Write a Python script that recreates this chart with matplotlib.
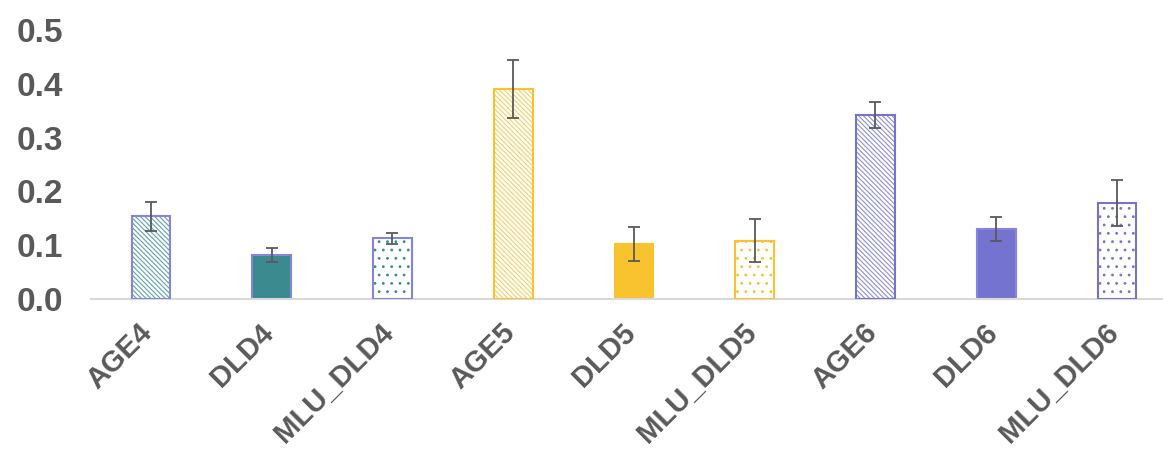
import numpy as np
import matplotlib.pyplot as plt
import matplotlib.transforms as mtransforms

# Values
groups = ['AGE4', 'DLD4', 'MLU_DLD4', 'AGE5', 'DLD5', 'MLU_DLD5', 'AGE6', 'DLD6', 'MLU_DLD6']
means = [0.154, 0.082, 0.113, 0.390, 0.102, 0.108, 0.342, 0.130, 0.178]
errors = [0.027, 0.013, 0.010, 0.054, 0.031, 0.040, 0.024, 0.023, 0.043]
yticks = [0.0, 0.1, 0.2, 0.3, 0.4, 0.5]

teal = '#3A8A8F'
yellow = '#F8C32F'
purple = '#7474D0'
edge_purple = '#8585DD'

# per-bar styling: (fill, hatch colour, hatch, outline)
diag = '\\' * 7
dots = '..'
styles = [
    ('none', '#5FA3A7', diag, edge_purple),
    (teal, None, None, edge_purple),
    ('none', teal, dots, edge_purple),
    ('none', '#F9D064', diag, yellow),
    (yellow, None, None, yellow),
    ('none', yellow, dots, yellow),
    ('none', '#8F8FDA', diag, purple),
    (purple, None, None, edge_purple),
    ('none', purple, dots, purple),
]

plt.rcParams['font.family'] = ['Liberation Sans', 'DejaVu Sans']
plt.rcParams['hatch.linewidth'] = 0.8

fig = plt.figure(figsize=(11.63, 4.55), dpi=100)
ax = fig.add_axes([90.6 / 1163, 1 - 299 / 455, 1086.75 / 1163, 269 / 455])

x = np.arange(len(groups))
width = 0.32
for i, (fill, hcol, hatch, edge) in enumerate(styles):
    if hatch:
        ax.bar(x[i], means[i], width, color='white', edgecolor=hcol,
               hatch=hatch, linewidth=0, zorder=2)
        ax.bar(x[i], means[i], width, fill=False, edgecolor=edge,
               linewidth=1.5, zorder=3)
    else:
        ax.bar(x[i], means[i], width, color=fill, edgecolor=edge,
               linewidth=1.5, zorder=2)

ax.errorbar(x, means, yerr=errors, fmt='none', ecolor='#595959',
            elinewidth=1.3, capsize=4, capthick=1.3, zorder=4)

ax.set_xlim(-0.5, 8.5)
ax.set_ylim(0, 0.5)
ax.set_yticks(yticks)
ax.set_yticklabels([f'{v:.1f}' for v in yticks])
ax.set_xticks(x)
ax.set_xticklabels(groups, rotation=45, ha='right')

for s in ['top', 'right', 'left']:
    ax.spines[s].set_visible(False)
ax.spines['bottom'].set_color('#D9D9D9')
ax.spines['bottom'].set_linewidth(1.5)

ax.tick_params(axis='both', length=0, labelcolor='#595959')
ax.tick_params(axis='y', labelsize=24, pad=20)
ax.tick_params(axis='x', labelsize=21, pad=14)
for lab in ax.get_yticklabels() + ax.get_xticklabels():
    lab.set_fontweight('bold')

offset = mtransforms.ScaledTranslation(7 / 100, 0, fig.dpi_scale_trans)
for lab in ax.get_xticklabels():
    lab.set_transform(lab.get_transform() + offset)

fig.savefig('out.png', dpi=100)
